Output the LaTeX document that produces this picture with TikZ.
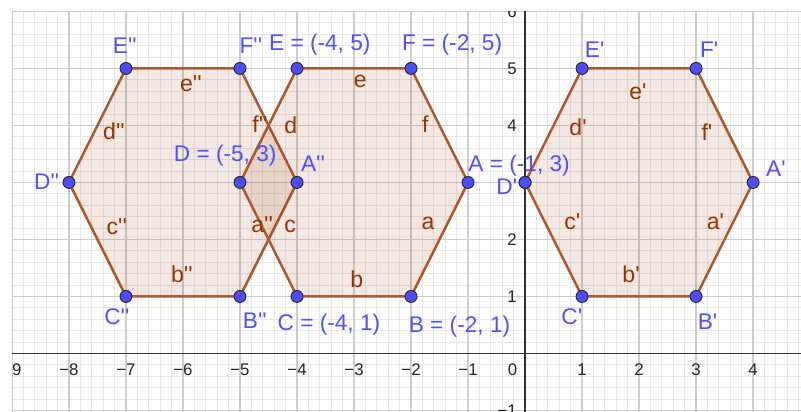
\documentclass[tikz,border=0pt]{standalone}
\usepackage{fontspec}
\newfontfamily\gfont{Liberation Sans}
\definecolor{ptblue}{RGB}{77,77,255}
\definecolor{lblblue}{RGB}{80,80,255}
\definecolor{edgebrown}{RGB}{172,88,48}
\definecolor{polyfill}{RGB}{153,51,0}
\definecolor{seglbl}{RGB}{153,51,0}
\definecolor{gridmaj}{RGB}{205,205,205}
\definecolor{gridmin}{RGB}{232,232,232}
\definecolor{axiscol}{RGB}{50,50,50}
\tikzset{
  minorgrid/.style={draw=gridmin, line width=0.45pt},
  majorgrid/.style={draw=gridmaj, line width=0.7pt},
  axisline/.style={draw=axiscol, line width=0.7pt},
  hexa/.style={draw=edgebrown, line width=1.25pt, fill=polyfill, fill opacity=0.11, line join=round},
  pt/.style={circle, fill=ptblue, draw=black!85, line width=0.45pt, minimum size=0.21cm, inner sep=0pt},
  plbl/.style={text=lblblue, font=\gfont\fontsize{11.3}{13}\selectfont, inner sep=0pt, anchor=base},
  slbl/.style={text=seglbl, font=\gfont\fontsize{11.5}{13}\selectfont, inner sep=0pt, anchor=base},
  xnum/.style={text=black!85, font=\gfont\fontsize{8.4}{10}\selectfont, inner sep=0pt, anchor=base},
  ynum/.style={text=black!85, font=\gfont\fontsize{8.4}{10}\selectfont, inner sep=0pt, anchor=east}
}
\begin{document}
\begin{tikzpicture}[x=1cm,y=1cm]
\useasboundingbox (-9.21,-1.01) rectangle (4.84,6.20);
\fill[white] (-9.21,-1.01) rectangle (4.84,6.20);
\begin{scope}
\clip (-9,-1.01) rectangle (4.84,6);
% grid
\draw[minorgrid, step=0.2] (-9.2,-1.2) grid (5,6.2);
\draw[majorgrid, step=1] (-9.2,-1.2) grid (5,6.2);
% axes
\draw[axisline] (-9.3,0) -- (5,0);
\draw[axisline] (0,-1.2) -- (0,6.3);
% axis numbers
\foreach \k in {-9,-8,-7,-6,-5,-4,-3,-2,-1}{
  \node[xnum] (xl\k) at (\k,-0.395) {−\the\numexpr-\k\relax};
}
\foreach \k in {1,2,3,4}{
  \node[xnum] (xl\k) at (\k,-0.395) {\k};
}
\node[xnum] (xl0) at (-0.22,-0.395) {0};
\foreach \k in {1,2,4,5,6}{
  \node[ynum] (yl\k) at (-0.14,\k) {\k};
}
\node[ynum] (ylm1) at (-0.14,-1) {−1};
% vertices
\coordinate (A) at (-1,3); \coordinate (B) at (-2,1); \coordinate (C) at (-4,1);
\coordinate (D) at (-5,3); \coordinate (E) at (-4,5); \coordinate (F) at (-2,5);
\coordinate (A1) at (4,3); \coordinate (B1) at (3,1); \coordinate (C1) at (1,1);
\coordinate (D1) at (0,3); \coordinate (E1) at (1,5); \coordinate (F1) at (3,5);
\coordinate (A2) at (-4,3); \coordinate (B2) at (-5,1); \coordinate (C2) at (-7,1);
\coordinate (D2) at (-8,3); \coordinate (E2) at (-7,5); \coordinate (F2) at (-5,5);
% hexagons
\filldraw[hexa] (A2) -- (B2) -- (C2) -- (D2) -- (E2) -- (F2) -- cycle;
\filldraw[hexa] (A) -- (B) -- (C) -- (D) -- (E) -- (F) -- cycle;
\filldraw[hexa] (A1) -- (B1) -- (C1) -- (D1) -- (E1) -- (F1) -- cycle;
% segment labels
\node[slbl] (la) at (-1.70,2.17) {a};
\node[slbl] (lb) at (-2.95,1.15) {b};
\node[slbl] (lc) at (-4.12,2.13) {c};
\node[slbl] (ld) at (-4.11,3.85) {d};
\node[slbl] (le) at (-2.89,4.66) {e};
\node[slbl] (lf) at (-1.75,3.87) {f};
\node[slbl] (la1) at (3.34,2.17) {a'};
\node[slbl] (lb1) at (1.86,1.25) {b'};
\node[slbl] (lc1) at (0.83,2.17) {c'};
\node[slbl] (ld1) at (0.93,3.83) {d'};
\node[slbl] (le1) at (1.98,4.45) {e'};
\node[slbl] (lf1) at (3.19,3.74) {f'};
\node[slbl] (la2) at (-4.61,2.13) {a''};
\node[slbl] (lb2) at (-6.02,1.24) {b''};
\node[slbl] (lc2) at (-7.16,2.08) {c''};
\node[slbl] (ld2) at (-7.21,3.76) {d''};
\node[slbl] (le2) at (-5.86,4.60) {e''};
\node[slbl] (lf2) at (-4.65,3.87) {f''};
% points
\foreach \p in {A,B,C,D,E,F,A1,B1,C1,D1,E1,F1,A2,B2,C2,D2,E2,F2}{
  \node[pt] (p\p) at (\p) {};
}
% point labels
\node[plbl] (tE2) at (-7.02,5.27) {E''};
\node[plbl] (tF2) at (-4.81,5.27) {F''};
\node[plbl] (tE) at (-3.60,5.31) {E = (-4, 5)};
\node[plbl] (tF) at (-1.28,5.31) {F = (-2, 5)};
\node[plbl] (tE1) at (1.22,5.20) {E'};
\node[plbl] (tF1) at (3.23,5.20) {F'};
\node[plbl] (tD) at (-5.26,3.37) {D = (-5, 3)};
\node[plbl] (tD2) at (-8.39,2.87) {D''};
\node[plbl] (tA2) at (-3.72,3.19) {A''};
\node[plbl, anchor=base west] (tA) at (-1.00,3.19) {A = (-1, 3)};
\node[plbl] (tA1) at (4.40,3.10) {A'};
\node[plbl] (tC2) at (-7.16,0.50) {C''};
\node[plbl] (tB2) at (-4.74,0.44) {B''};
\node[plbl] (tC) at (-3.44,0.41) {C = (-4, 1)};
\node[plbl] (tB) at (-1.15,0.37) {B = (-2, 1)};
\node[plbl] (tC1) at (0.82,0.50) {C'};
\node[plbl] (tB1) at (3.20,0.42) {B'};
\end{scope}
% D' label drawn beneath its point in the reference
\begin{scope}
\clip (-9,-1.01) rectangle (4.84,6);
\node[plbl] (tD1) at (-0.32,2.78) {D'};
\node[pt] at (D1) {};
\end{scope}
\end{tikzpicture}
\end{document}
